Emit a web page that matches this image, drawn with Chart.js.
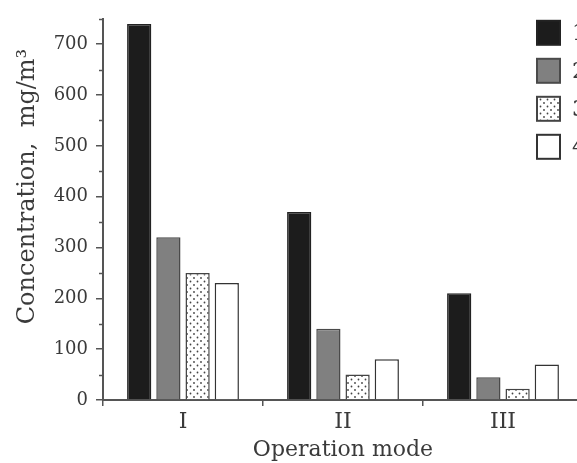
<!DOCTYPE html>
<html>
<head>
<meta charset="utf-8">
<script src="https://cdn.jsdelivr.net/npm/chart.js@4"></script>
<style>
  html, body { margin: 0; padding: 0; background: #fff; overflow: hidden; }
  #wrap { width: 577px; height: 463px; overflow: hidden; }
</style>
</head>
<body>
<div id="wrap"><canvas id="chart" width="600" height="463"></canvas></div>
<script>
// Data
const modes = ['I', 'II', 'III'];
const series1 = [740, 370, 210];
const series2 = [320, 140, 45];
const series3 = [250, 50, 22];
const series4 = [230, 80, 70];
const legendNames = ['1', '2', '3', '4'];

const serif = 'DejaVu Serif';
const textColor = '#3a3a3a';
const axisColor = '#555';

// dotted fill for the third series
function dotPattern() {
  const c = document.createElement('canvas');
  c.width = 7; c.height = 7;
  const g = c.getContext('2d');
  g.fillStyle = '#fff';
  g.fillRect(0, 0, 7, 7);
  g.fillStyle = '#444';
  g.beginPath(); g.arc(1.5, 1.5, 0.9, 0, Math.PI * 2); g.fill();
  g.beginPath(); g.arc(5, 5, 0.9, 0, Math.PI * 2); g.fill();
  return g.createPattern(c, 'repeat');
}

const ctx = document.getElementById('chart').getContext('2d');
const dots = dotPattern();

// small ticks at the half hundreds + legend in the corner
const extras = {
  id: 'extras',
  afterDraw(chart) {
    const c = chart.ctx;
    const y = chart.scales.y;
    c.save();
    c.strokeStyle = axisColor;
    c.lineWidth = 1.5;
    for (let v = 50; v <= 750; v += 100) {
      const py = Math.round(y.getPixelForValue(v)) + 0.5;
      c.beginPath();
      c.moveTo(y.right - 4, py);
      c.lineTo(y.right, py);
      c.stroke();
    }
    // legend
    const area = chart.chartArea;
    const x0 = area.right - 46;
    chart.data.datasets.forEach((ds, i) => {
      const top = area.top + 2 + i * 38;
      c.fillStyle = ds.backgroundColor;
      c.fillRect(x0, top, 23, 24);
      c.strokeStyle = ds.borderColor;
      c.lineWidth = 2;
      c.strokeRect(x0, top, 23, 24);
      c.fillStyle = textColor;
      c.font = '22px "' + serif + '"';
      c.textBaseline = 'middle';
      c.fillText(legendNames[i], x0 + 35, top + 13);
    });
    c.restore();
  }
};

new Chart(ctx, {
  type: 'bar',
  data: {
    labels: modes,
    datasets: [
      { label: legendNames[0], data: series1, backgroundColor: '#1c1c1c', borderColor: '#222', borderWidth: 1.5 },
      { label: legendNames[1], data: series2, backgroundColor: '#808080', borderColor: '#4a4a4a', borderWidth: 1.5 },
      { label: legendNames[2], data: series3, backgroundColor: dots, borderColor: '#444', borderWidth: 1.5 },
      { label: legendNames[3], data: series4, backgroundColor: '#ffffff', borderColor: '#333', borderWidth: 1.5 }
    ]
  },
  options: {
    responsive: false,
    animation: false,
    devicePixelRatio: 1,
    layout: { padding: { top: 17, right: 17, left: 0, bottom: 0 } },
    datasets: { bar: { categoryPercentage: 0.73, barPercentage: 0.83 } },
    plugins: {
      legend: { display: false },
      tooltip: { enabled: false }
    },
    scales: {
      x: {
        grid: { drawOnChartArea: false, offset: true, tickLength: 6, color: axisColor, lineWidth: 1.5 },
        border: { color: axisColor, width: 2 },
        ticks: { color: textColor, font: { family: serif, size: 22 }, padding: 3 },
        title: { display: true, text: 'Operation mode', color: textColor, font: { family: serif, size: 22 }, padding: { top: 0, bottom: 0 } },
        afterFit(scale) { scale.height = 63; }
      },
      y: {
        min: 0,
        max: 750,
        grid: {
          drawOnChartArea: false,
          tickLength: 7,
          lineWidth: 1.5,
          color: (c) => (c.tick && c.tick.value % 100 === 0) ? axisColor : 'rgba(0,0,0,0)'
        },
        border: { color: axisColor, width: 2 },
        ticks: {
          stepSize: 50,
          color: textColor,
          font: { family: serif, size: 18 },
          padding: 8,
          callback: (v) => (v % 100 === 0 ? String(v) : '')
        },
        // leading spaces push the text up a little, as in the original
        title: { display: true, text: '      Concentration,  mg/m\u00b3', color: textColor, font: { family: serif, size: 24 }, padding: { top: 13, bottom: 0 } },
        afterFit(scale) { scale.width = 103; }
      }
    }
  },
  plugins: [extras]
});
</script>
</body>
</html>
